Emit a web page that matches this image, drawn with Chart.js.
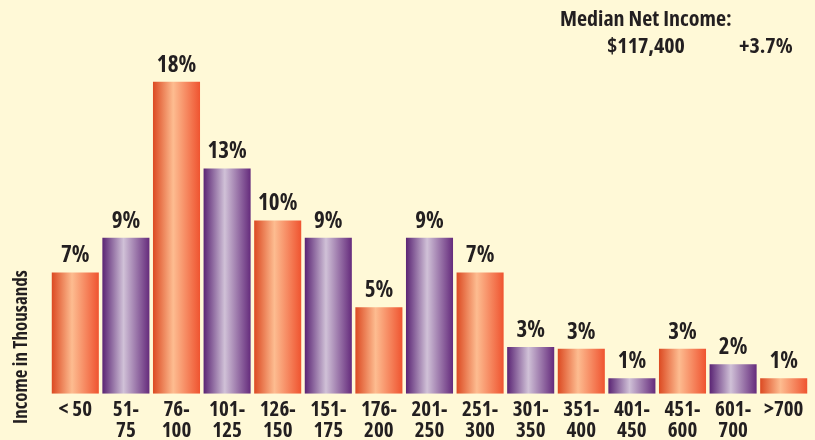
<!DOCTYPE html>
<html>
<head>
<meta charset="utf-8">
<script src="https://cdn.jsdelivr.net/npm/chart.js@4/dist/chart.umd.min.js"></script>
<style>
  html, body { margin: 0; padding: 0; background: #fff9d7; }
  #wrap { width: 815px; height: 440px; position: relative; }
</style>
</head>
<body>
<div id="wrap"><canvas id="income-chart"></canvas></div>
<script>
const categories = [["< 50"], ["51-", "75"], ["76-", "100"], ["101-", "125"], ["126-", "150"],
    ["151-", "175"], ["176-", "200"], ["201-", "250"], ["251-", "300"], ["301-", "350"],
    ["351-", "400"], ["401-", "450"], ["451-", "600"], ["601-", "700"], [">700"]];
const shares = [7, 9, 18, 13, 10, 9, 5, 9, 7, 2.7, 2.6, 0.9, 2.6, 1.7, 0.9];
const header_lines = ["Median Net Income:", "$117,400", "+3.7%"];
const axis_title = "Income in Thousands";

// Open Sans is variable here, so "condensed" gives a narrow bold face
const FAMILY = '"Open Sans", "DejaVu Sans", sans-serif';
const INK = "#231f20";
const BAR_PCT = 0.93;

function cfont(size) {
    return "condensed bold " + size + "px " + FAMILY;
}

// orange / purple alternate, shaded across each bar
function bar_fill(c) {
    const chart = c.chart;
    const xs = chart.scales.x;
    const orange = c.dataIndex % 2 === 0;
    if (!xs || !chart.chartArea) return orange ? "#f06a3e" : "#6c3a86";
    const mid = xs.getPixelForValue(c.dataIndex);
    const half = (xs.width / categories.length) * BAR_PCT / 2;
    const g = chart.ctx.createLinearGradient(mid - half, 0, mid + half, 0);
    if (orange) {
        g.addColorStop(0, "#dc4a22");
        g.addColorStop(0.43, "#fdbc90");
        g.addColorStop(1, "#ef5430");
    } else {
        g.addColorStop(0, "#5a2474");
        g.addColorStop(0.45, "#d0c1d7");
        g.addColorStop(1, "#652b7c");
    }
    return g;
}

const extras = {
    id: "extras",
    afterDatasetsDraw(chart) {
        const ctx = chart.ctx;
        const meta = chart.getDatasetMeta(0);
        ctx.save();
        ctx.fillStyle = INK;
        ctx.textAlign = "center";
        ctx.textBaseline = "alphabetic";
        ctx.font = cfont(23);
        meta.data.forEach((bar, i) => {
            ctx.fillText(Math.round(shares[i]) + "%", bar.x, bar.y - 10);
        });

        ctx.font = cfont(22);
        ctx.textAlign = "left";
        ctx.fillText(header_lines[0], 560, 26);
        ctx.fillText(header_lines[1], 607, 53);
        ctx.fillText(header_lines[2], 739, 53);

        ctx.font = cfont(19);
        ctx.translate(27, 347);
        ctx.rotate(-Math.PI / 2);
        ctx.textAlign = "center";
        ctx.fillText(axis_title, 0, 0);
        ctx.restore();
    }
};

const data = {
    labels: categories,
    datasets: [{
        data: shares,
        backgroundColor: bar_fill,
        borderWidth: 0,
        barPercentage: BAR_PCT,
        categoryPercentage: 1
    }]
};

const options = {
    responsive: true,
    maintainAspectRatio: false,
    animation: false,
    layout: { padding: { left: 50, right: 6, top: 21, bottom: -7 } },
    plugins: {
        legend: { display: false },
        tooltip: { enabled: false }
    },
    scales: {
        x: {
            grid: { display: false, drawTicks: false },
            border: { display: false },
            ticks: {
                color: INK,
                font: { family: FAMILY, size: 21, weight: "bold condensed", lineHeight: 0.98 },
                padding: 6,
                maxRotation: 0,
                autoSkip: false
            }
        },
        y: {
            display: false,
            min: 0,
            max: 21.5
        }
    }
};

new Chart(document.getElementById("income-chart"), {
    type: "bar",
    data: data,
    options: options,
    plugins: [extras]
});
</script>
</body>
</html>
